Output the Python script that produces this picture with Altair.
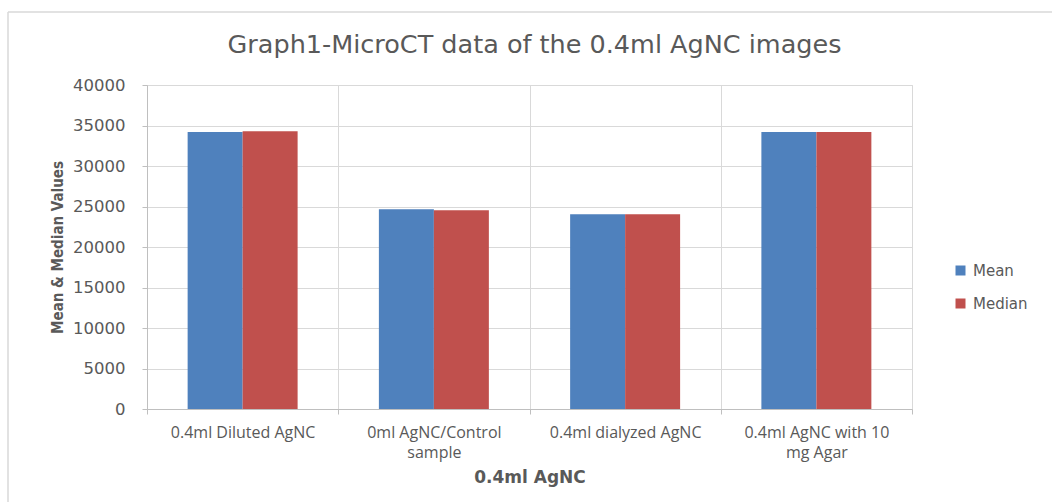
import altair as alt
import pandas as pd

# ---- data ----
categories = [
    "0.4ml Diluted AgNC",
    "0ml AgNC/Control sample",
    "0.4ml dialyzed AgNC",
    "0.4ml AgNC with 10 mg Agar",
]
label_lines = [
    ["0.4ml Diluted AgNC"],
    ["0ml AgNC/Control", "sample"],
    ["0.4ml dialyzed AgNC"],
    ["0.4ml AgNC with 10", "mg Agar"],
]
series = ["Mean", "Median"]
mean_values = [34200, 24650, 24050, 34200]
median_values = [34300, 24550, 24050, 34200]
y_ticks = [0, 5000, 10000, 15000, 20000, 25000, 30000, 35000, 40000]
colors = ["#4F81BD", "#C0504D"]

rows = []
for c, m, md in zip(categories, mean_values, median_values):
    rows.append({"category": c, "series": "Mean", "value": m})
    rows.append({"category": c, "series": "Median", "value": md})
df = pd.DataFrame(rows)

# label expression for multi-line category labels
parts = []
for c, lines in zip(categories, label_lines):
    arr = "[" + ",".join("'" + l + "'" for l in lines) + "]"
    parts.append(f"datum.value == '{c}' ? {arr} : ")
label_expr = "".join(parts) + "datum.value"

TEXT = "#595959"
GRID = "#d9d9d9"

bars = alt.Chart(df).mark_bar().encode(
    x=alt.X(
        "category:N",
        sort=categories,
        scale=alt.Scale(paddingInner=0, paddingOuter=0),
        axis=alt.Axis(
            title="0.4ml AgNC",
            labelAngle=0,
            labelExpr=label_expr,
            labelFont="Open Sans",
            labelFontSize=16,
            labelColor=TEXT,
            labelLineHeight=20,
            labelPadding=10,
            tickBand="extent",
            tickSize=5,
            tickColor="#bfbfbf",
            domainColor="#bfbfbf",
            grid=True,
            gridColor=GRID,
            titleFont="DejaVu Sans",
            titleFontWeight="bold",
            titleFontSize=17,
            titleColor=TEXT,
            titleY=68,
            titleBaseline="middle",
        ),
    ),
    xOffset=alt.XOffset(
        "series:N", sort=series, scale=alt.Scale(paddingInner=0, paddingOuter=0.739)
    ),
    y=alt.Y(
        "value:Q",
        scale=alt.Scale(domain=[0, 40000], nice=False),
        axis=alt.Axis(
            title="Mean & Median Values",
            values=y_ticks,
            format="d",
            labelFont="DejaVu Sans",
            labelFontSize=16.5,
            labelColor=TEXT,
            labelPadding=17,
            tickSize=5,
            tickColor="#bfbfbf",
            domainColor="#bfbfbf",
            gridColor=GRID,
            titleFont="Liberation Sans Narrow, DejaVu Sans Condensed, DejaVu Sans",
            titleFontWeight="bold",
            titleFontSize=15,
            titleColor=TEXT,
            titleX=-90,
            titleY=162,
            titleAlign="center",
            titleBaseline="middle",
            titleAngle=270,
        ),
    ),
    color=alt.Color(
        "series:N",
        sort=series,
        scale=alt.Scale(domain=series, range=colors),
        legend=alt.Legend(
            title=None,
            orient="none",
            legendX=806,
            legendY=178,
            symbolType="square",
            symbolSize=100,
            symbolStrokeWidth=0,
            labelFont="DejaVu Sans",
            labelFontSize=15,
            labelColor=TEXT,
            labelOffset=5,
            rowPadding=17,
        ),
    ),
)

# outer chart frame (decoration)
frame_top = alt.Chart(pd.DataFrame({"a": [0]})).mark_rule(color=GRID, strokeWidth=1.5).encode(
    x=alt.value(-139), x2=alt.value(905), y=alt.value(-73)
)
frame_left = alt.Chart(pd.DataFrame({"a": [0]})).mark_rule(color=GRID, strokeWidth=1.5).encode(
    x=alt.value(-139), y=alt.value(-73), y2=alt.value(417)
)

chart = (
    alt.layer(bars, frame_top, frame_left)
    .properties(
        width=765,
        height=324,
        title=alt.TitleParams(
            "Graph1-MicroCT data of the 0.4ml AgNC images",
            font="DejaVu Sans",
            fontSize=25.5,
            fontWeight="normal",
            color=TEXT,
            anchor="middle",
            offset=-47,
            dx=5,
        ),
        autosize=alt.AutoSizeParams(type="none"),
        padding={"left": 147, "top": 85, "right": 140, "bottom": 93},
    )
    .configure_view(stroke="#bfbfbf")
    .configure(background="white")
)

chart.save("out.html", embed_options={"renderer": "svg", "actions": False})
